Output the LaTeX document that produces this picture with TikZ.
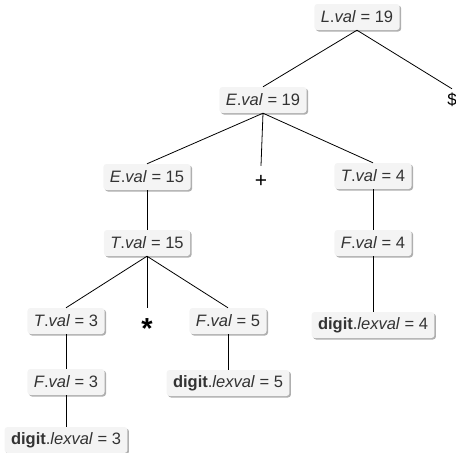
\documentclass[tikz,border=0pt]{standalone}
\usepackage{fontspec}
\setmainfont{Liberation Sans}
\usetikzlibrary{shadows}
\definecolor{boxfill}{HTML}{F4F4F4}
\definecolor{ink}{HTML}{333333}
\tikzset{
  attr/.style={fill=boxfill, rounded corners=3pt, inner xsep=6.5pt, inner ysep=0pt,
    minimum height=26pt, text=ink, font=\fontsize{16.5}{18}\selectfont,
    drop shadow={shadow xshift=1.5pt, shadow yshift=-1.5pt, fill=black!35, opacity=0.9}},
  % terminal symbols: the node centre sits on the middle of the glyph
  term/.style={inner sep=0pt, text height=0pt, text depth=0pt, minimum height=28pt,
    text=black, font=\fontsize{17}{18}\selectfont},
  branch/.style={draw=black, line width=0.8pt}
}
\newcommand{\attrval}[2]{\textit{#1}.\textit{val} = #2}
\newcommand{\lexval}[1]{\textbf{digit}.\textit{lexval} = #1}
\newcommand{\midsym}[2]{\raisebox{#1}{#2}}
\begin{document}
\begin{tikzpicture}[x=1pt,y=-1pt]
  \useasboundingbox (0,0) rectangle (456,453);
  % nodes of the annotated parse tree
  \node[attr] (L)   at (357,17)  {\attrval{L}{19}};
  \node[attr] (E1)  at (263,100) {\attrval{E}{19}};
  \node[term, minimum height=22pt] (dol) at (452,100) {\midsym{-0.35em}{\$}};
  \node[attr] (E2)  at (147,177) {\attrval{E}{15}};
  \node[term, font=\fontsize{21}{22}\selectfont] (plus) at (261,180) {\midsym{-0.35em}{+}};
  \node[attr] (T4)  at (373,176) {\attrval{T}{4}};
  \node[attr] (T15) at (147,243) {\attrval{T}{15}};
  \node[attr] (F4)  at (373,243) {\attrval{F}{4}};
  \node[attr] (T3)  at (66,321)  {\attrval{T}{3}};
  \node[term, font=\fontsize{29}{29}\selectfont\bfseries] (star) at (147,322) {\midsym{-0.58em}{*}};
  \node[attr] (F5)  at (228,321) {\attrval{F}{5}};
  \node[attr] (D4)  at (373,325) {\lexval{4}};
  \node[attr] (F3)  at (66,382)  {\attrval{F}{3}};
  \node[attr] (D5)  at (228,383) {\lexval{5}};
  \node[attr] (D3)  at (66,440)  {\lexval{3}};
  % tree edges
  \draw[branch] (L.south) -- (E1.north);
  \draw[branch] (L.south) -- (dol.north);
  \draw[branch] (E1.south) -- (E2.north);
  \draw[branch] (E1.south) -- (plus.north);
  \draw[branch] (E1.south) -- (T4.north);
  \draw[branch] (E2.south) -- (T15.north);
  \draw[branch] (T4.south) -- (F4.north);
  \draw[branch] (F4.south) -- (D4.north);
  \draw[branch] (T15.south) -- (T3.north);
  \draw[branch] (T15.south) -- (star.north);
  \draw[branch] (T15.south) -- (F5.north);
  \draw[branch] (T3.south) -- (F3.north);
  \draw[branch] (F3.south) -- (D3.north);
  \draw[branch] (F5.south) -- (D5.north);
\end{tikzpicture}
\end{document}
